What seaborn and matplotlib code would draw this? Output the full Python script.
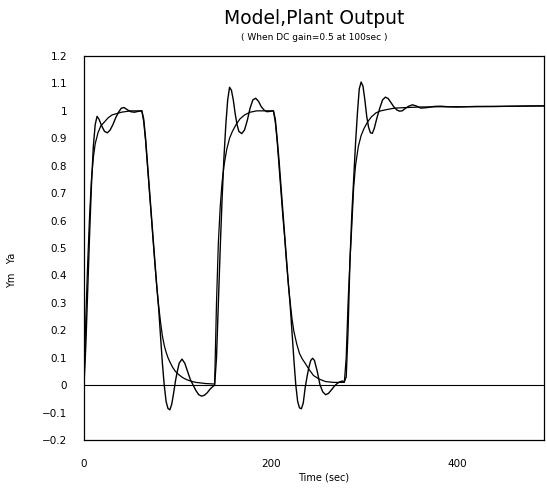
import numpy as np
import pandas as pd
import matplotlib
matplotlib.use("Agg")
import matplotlib.pyplot as plt
import seaborn as sns

# plant output (oscillating)
plant_t = [0, 2, 4, 6, 8, 10, 12, 14, 16, 19, 22, 25, 28, 31, 34, 37, 40, 43, 46, 50, 54, 58, 62,
           64, 66, 68, 70, 72, 74, 76, 78, 80, 82, 84, 86, 88, 90, 92, 94, 96, 98, 100, 102, 105,
           108, 111, 114, 117, 120, 123, 126, 129, 132, 135, 138,
           140, 142, 144, 146, 148, 150, 152, 154, 156, 158, 160, 162, 164, 166, 169, 172, 175,
           178, 181, 184, 187, 190, 193, 196, 199, 203,
           205, 207, 209, 211, 213, 215, 217, 219, 221, 223, 225, 227, 229, 231, 233, 235, 237,
           239, 241, 243, 245, 247, 250, 253, 256, 259, 262, 265, 268, 271, 274, 277, 279,
           281, 283, 285, 287, 289, 291, 293, 295, 297, 299, 301, 303, 305, 307, 309, 311, 314,
           317, 320, 323, 326, 329, 332, 335, 338, 341, 344, 348, 352, 356, 361, 368, 375, 382,
           390, 400, 420, 440, 460, 480, 493]
plant_y = [0.0, 0.15, 0.35, 0.55, 0.73, 0.87, 0.95, 0.98, 0.97, 0.945, 0.925, 0.92, 0.93, 0.95,
           0.975, 0.995, 1.01, 1.012, 1.005, 0.997, 0.995, 0.998, 1.0,
           0.97, 0.9, 0.81, 0.72, 0.63, 0.54, 0.45, 0.36, 0.28, 0.18, 0.08, 0.0, -0.06, -0.085,
           -0.09, -0.07, -0.03, 0.015, 0.05, 0.08, 0.095,
           0.08, 0.05, 0.02, 0.0, -0.02, -0.035, -0.04, -0.037, -0.028, -0.015, -0.005,
           0.0, 0.1, 0.3, 0.5, 0.68, 0.83, 0.95, 1.04, 1.086, 1.075, 1.04, 0.99, 0.95, 0.925,
           0.917, 0.93, 0.965, 1.01, 1.04, 1.046, 1.035, 1.015, 1.003, 0.997, 0.998, 1.0,
           0.97, 0.9, 0.82, 0.73, 0.64, 0.55, 0.46, 0.37, 0.29, 0.19, 0.09, 0.0, -0.06, -0.083,
           -0.086, -0.065, -0.01, 0.03, 0.065, 0.09, 0.098, 0.09, 0.05, 0.0, -0.025, -0.035,
           -0.03, -0.018, -0.005, 0.005, 0.012, 0.015, 0.012,
           0.03, 0.2, 0.45, 0.62, 0.75, 0.88, 0.99, 1.08, 1.105, 1.09, 1.04, 0.98, 0.94, 0.92,
           0.918, 0.935, 0.975, 1.01, 1.04, 1.05, 1.045, 1.03, 1.015, 1.004, 0.999, 1.0, 1.008,
           1.017, 1.022, 1.018, 1.01, 1.012, 1.016, 1.017, 1.015, 1.014, 1.016, 1.016, 1.017,
           1.018, 1.018]

# model output (smooth)
model_t = [0, 2, 4, 6, 8, 10, 12, 15, 18, 22, 26, 30, 35, 40, 50, 62,
           64, 66, 68, 70, 72, 74, 76, 78, 80, 82, 84, 86, 88, 90, 92, 95, 98, 102, 106, 110,
           115, 120, 130, 140,
           142, 144, 146, 148, 150, 153, 156, 159, 163, 167, 172, 178, 185, 203,
           205, 207, 209, 211, 213, 215, 217, 219, 221, 223, 225, 228, 231, 234, 237, 241, 246,
           252, 259, 268, 279,
           281, 283, 285, 287, 289, 291, 294, 297, 300, 304, 308, 313, 318, 325, 333, 345, 360,
           380, 400, 440, 493]
model_y = [0.0, 0.25, 0.45, 0.62, 0.75, 0.83, 0.88, 0.92, 0.945, 0.96, 0.975, 0.985, 0.99,
           0.995, 1.0, 1.0,
           0.96, 0.89, 0.8, 0.71, 0.62, 0.53, 0.44, 0.36, 0.29, 0.23, 0.18, 0.145, 0.12, 0.1,
           0.085, 0.065, 0.05, 0.037, 0.027, 0.02, 0.014, 0.01, 0.006, 0.004,
           0.3, 0.52, 0.65, 0.74, 0.8, 0.86, 0.9, 0.925, 0.95, 0.97, 0.985, 0.995, 1.0, 1.0,
           0.96, 0.89, 0.8, 0.71, 0.62, 0.54, 0.45, 0.37, 0.3, 0.24, 0.195, 0.15, 0.115, 0.095,
           0.08, 0.058, 0.035, 0.022, 0.013, 0.01, 0.01,
           0.1, 0.3, 0.45, 0.58, 0.72, 0.8, 0.87, 0.91, 0.935, 0.96, 0.978, 0.993, 1.0, 1.005,
           1.01, 1.012, 1.014, 1.015, 1.015, 1.016, 1.018]

x_ticks = [0, 100, 200, 300, 400]
x_tick_labels = ["0", "", "200", "", "400"]
y_ticks = [-0.2, -0.1, 0, 0.1, 0.2, 0.3, 0.4, 0.5, 0.6, 0.7, 0.8, 0.9, 1, 1.1, 1.2]
y_tick_labels = ["\u22120.2", "\u22120.1", "0", "0.1", "0.2", "0.3", "0.4", "0.5", "0.6",
                 "0.7", "0.8", "0.9", "1", "1.1", "1.2"]

sns.set_style("white")
plt.rcParams["font.family"] = ["DejaVu Sans"]
plt.rcParams["text.color"] = "black"
plt.rcParams["xtick.color"] = "black"
plt.rcParams["ytick.color"] = "black"

plant = pd.DataFrame({"t": plant_t, "y": plant_y})
model = pd.DataFrame({"t": model_t, "y": model_y})

fig = plt.figure(figsize=(5.47, 4.92), dpi=100)
ax = fig.add_axes([84 / 547, 1 - 440 / 492, 460 / 547, 384 / 492])

ax.axhline(0, color="black", lw=0.8)
sns.lineplot(data=model, x="t", y="y", color="black", lw=0.9, ax=ax)
sns.lineplot(data=plant, x="t", y="y", color="black", lw=1.0, ax=ax)

ax.set_xlim(0, 493)
ax.set_ylim(-0.2, 1.2)
ax.set_xticks(x_ticks)
ax.set_xticklabels(x_tick_labels)
ax.set_yticks(y_ticks)
ax.set_yticklabels(y_tick_labels)
ax.tick_params(axis="x", direction="out", length=4, width=0.8, pad=10, labelsize=7.5,
               colors="black")
ax.tick_params(axis="y", direction="inout", length=6, width=0.8, pad=9, labelsize=7.5,
               colors="black")
ax.set_xlabel("")
ax.set_ylabel("")
for s in ax.spines.values():
    s.set_color("black")
    s.set_linewidth(0.9)

fig.text(314 / 547, 1 - 18 / 492, "Model,Plant Output", ha="center", va="center",
         fontsize=13.5, color="black")
fig.text(314 / 547, 1 - 38 / 492, "( When DC gain=0.5 at 100sec )", ha="center", va="center",
         fontsize=6.5, color="black")
fig.text(12 / 547, 1 - 270 / 492, "Ym   Ya", rotation=90, ha="center", va="center",
         fontsize=7, color="black")
fig.text(324 / 547, 1 - 478 / 492, "Time (sec)", ha="center", va="center", fontsize=7,
         color="black")

plt.savefig("out.png", dpi=100)
